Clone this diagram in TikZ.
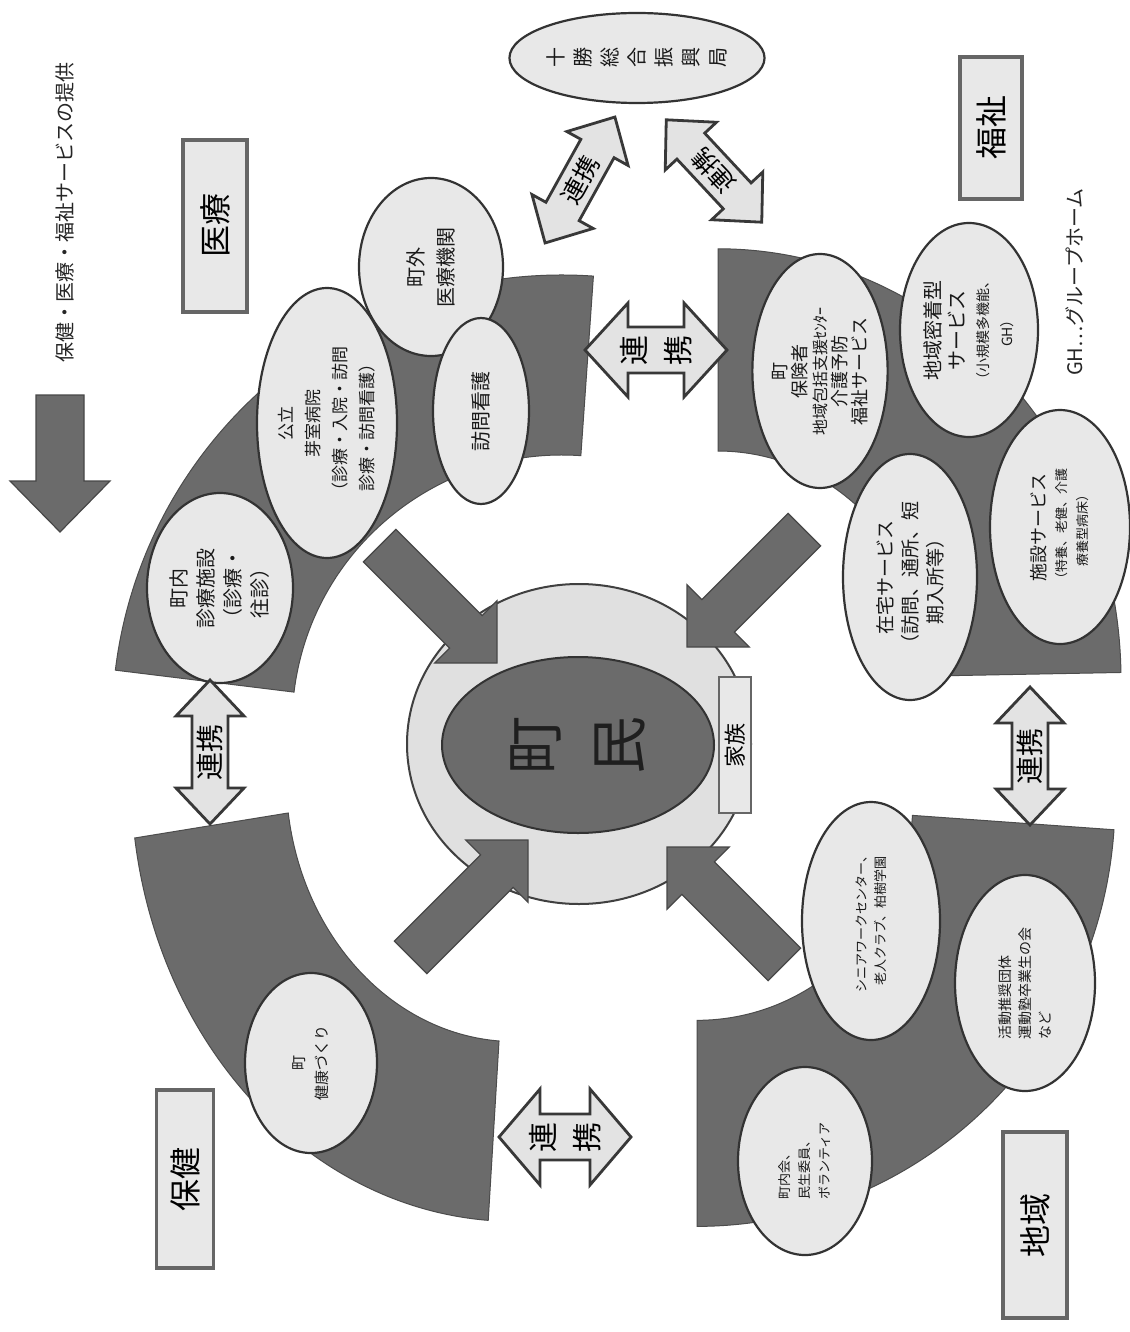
\documentclass[tikz,border=0pt]{standalone}
\usepackage{fontspec}
\setmainfont{Noto Sans CJK JP}
\usetikzlibrary{shapes.geometric}

\tikzset{
  band/.style={fill=black!58, draw=black!70, line width=1pt},
  svc/.style={ellipse, draw=black!80, fill=black!9, line width=2.2pt, inner sep=0pt, rotate=90, align=center, text=black!90},
  areabox/.style={draw=black!60, fill=black!9, line width=3.5pt, inner sep=0pt, rotate=90, font=\fontsize{32}{36}\selectfont},
  inarrow/.style={fill=black!58, draw=black!72, line width=1.2pt},
  linkarrow/.style={fill=black!11, draw=black!78, line width=2.8pt},
  linktext/.style={align=center, inner sep=0pt, font=\fontsize{30}{44}\selectfont},
}

% quarter ring: centre x, centre y, yscale, inner r, outer r, start, end
\newcommand{\ringpart}[7]{%
  \begin{scope}[shift={(#1,#2)}, yscale=#3]
    \filldraw[band] (#6:#4) arc[start angle=#6, end angle=#7, radius=#4] -- (#7:#5) arc[start angle=#7, end angle=#6, radius=#5] -- cycle;
  \end{scope}}
% block arrow towards the centre: tip, angle
\newcommand{\pusharrow}[2]{%
  \filldraw[inarrow, shift={#1}, rotate=#2] (0,0) -- (-44,44) -- (-44,23) -- (-166,23) -- (-166,-23) -- (-44,-23) -- (-44,-44) -- cycle;}
% double block arrow: centre, angle, half length, half head, half shaft, head length
\newcommand{\linkshape}[6]{%
  \filldraw[linkarrow, shift={#1}, rotate=#2] (-#3,0) -- ({#6-#3},#4) -- ({#6-#3},#5) -- ({#3-#6},#5) -- ({#3-#6},#4) -- (#3,0) -- ({#3-#6},-#4) -- ({#3-#6},-#5) -- ({#6-#3},-#5) -- ({#6-#3},-#4) -- cycle;}

\begin{document}
\begin{tikzpicture}[x=1pt, y=-1pt]
\fill[white] (0,0) rectangle (1129,1332);
\useasboundingbox (0,0) rectangle (1129,1332);

% title
\node[rotate=90, font=\fontsize{20}{24}\selectfont, text=black!85] (title) at (65,212) {保健・医療・福祉サービスの提供};
\filldraw[inarrow] (36,395) -- (84,395) -- (84,481) -- (110,481) -- (60,532) -- (10,481) -- (36,481) -- cycle;

% bands
\ringpart{562}{725}{1}{270}{450}{187}{274}
\ringpart{718}{680}{1.07}{214}{403}{270}{359}
\ringpart{697}{800}{1.02}{216}{418}{4}{90}
\ringpart{515}{776}{1.16}{229}{384}{94}{172}

% centre
\node[ellipse, fill=black!12, draw=black!75, line width=2pt, minimum width=344pt, minimum height=320pt] (ring) at (579,744) {};
\pusharrow{(497,663)}{-45}
\pusharrow{(687,647)}{-135}
\pusharrow{(528,840)}{45}
\pusharrow{(667,847)}{135}
\node[ellipse, fill=black!58, draw=black!80, line width=2pt, rotate=90, minimum width=176pt, minimum height=272pt, align=center, font=\fontsize{58}{84}\selectfont, text=black!88] (chomin) at (578,745) {町\\民};
\node[areabox, line width=2.5pt, minimum width=136pt, minimum height=32pt, font=\fontsize{22}{26}\selectfont] (kazoku) at (735,745) {家族};

% medical
\node[svc, minimum width=190pt, minimum height=146pt, font=\fontsize{20}{27}\selectfont] (chonai) at (220,588) {町内\\診療施設\\（診療・\\往診）};
\node[svc, minimum width=270pt, minimum height=140pt, font=\fontsize{17}{27}\selectfont] (memuro) at (327,423) {公立\\芽室病院\\（診療・入院・訪問\\診療・訪問看護）};
\node[svc, minimum width=178pt, minimum height=144pt, font=\fontsize{20}{30}\selectfont] (chogai) at (431,267) {町外\\医療機関};
\node[svc, minimum width=186pt, minimum height=96pt, font=\fontsize{20}{24}\selectfont] (houmon) at (481,411) {訪問看護};

% welfare
\node[svc, minimum width=234pt, minimum height=134pt, font=\fontsize{18}{20}\selectfont] (hokensha) at (820,371) {町\\保険者\\{\fontsize{16}{20}\selectfont 地域包括支援ｾﾝﾀｰ}\\介護予防\\福祉サービス};
\node[svc, minimum width=214pt, minimum height=138pt, font=\fontsize{20}{24}\selectfont] (mitchaku) at (969,330) {地域密着型\\サービス\\{\fontsize{14}{20}\selectfont （小規模多機能、}\\{\fontsize{14}{20}\selectfont GH）}};
\node[svc, minimum width=246pt, minimum height=134pt, font=\fontsize{19}{25}\selectfont] (zaitaku) at (910,577) {在宅サービス\\（訪問、通所、短\\期入所等）};
\node[svc, minimum width=234pt, minimum height=140pt, font=\fontsize{18}{21}\selectfont] (shisetsu) at (1060,527) {施設サービス\\{\fontsize{13}{20}\selectfont （特養、老健、介護}\\{\fontsize{13}{20}\selectfont 療養型病床）}};

% community
\node[svc, minimum width=238pt, minimum height=138pt, font=\fontsize{13}{19}\selectfont] (senior) at (871,921) {シニアワークセンター、\\老人クラブ、柏樹学園};
\node[svc, minimum width=216pt, minimum height=140pt, align=left, font=\fontsize{14}{20}\selectfont] (katsudo) at (1025,983) {活動推奨団体\\運動塾卒業生の会\\など};
\node[svc, minimum width=188pt, minimum height=134pt, align=left, font=\fontsize{13}{20}\selectfont] (chonaikai) at (805,1161) {町内会、\\民生委員、\\ボランティア};

% health
\node[svc, minimum width=180pt, minimum height=132pt, font=\fontsize{15}{23}\selectfont] (kenko) at (311,1063) {町\\健康づくり};

% prefecture office
\node[svc, minimum width=90pt, minimum height=244pt, font=\fontsize{20}{27}\selectfont] (tokachi) at (637,58) {十\\勝\\総\\合\\振\\興\\局};

% links
\linkshape{(656,350)}{0}{71}{47}{23}{43}
\node[linktext, rotate=90] (renkeiA) at (656,350) {連\\携};
\linkshape{(580,180)}{61}{72}{35}{19}{36}
\node[linktext, rotate=61, font=\fontsize{25}{28}\selectfont] (renkeiB) at (580,180) {連携};
\linkshape{(714,171)}{-47}{70}{35}{19}{36}
\node[linktext, rotate=133, font=\fontsize{25}{28}\selectfont] (renkeiC) at (714,171) {連携};
\linkshape{(565,1137)}{0}{66}{48}{23}{41}
\node[linktext, rotate=90] (renkeiD) at (565,1137) {連\\携};
\linkshape{(210,752)}{90}{72}{34}{18}{36}
\node[linktext, rotate=90, font=\fontsize{28}{30}\selectfont] (renkeiE) at (210,752) {連携};
\linkshape{(1030,756)}{90}{69}{34}{18}{36}
\node[linktext, rotate=90, font=\fontsize{28}{30}\selectfont] (renkeiF) at (1030,756) {連携};

% area labels
\node[areabox, minimum width=172pt, minimum height=64pt] (iryo) at (215,226) {医療};
\node[areabox, minimum width=142pt, minimum height=62pt] (fukushi) at (991,128) {福祉};
\node[areabox, minimum width=178pt, minimum height=57pt] (hoken) at (185,1179) {保健};
\node[areabox, minimum width=186pt, minimum height=64pt] (chiiki) at (1035,1225) {地域};
\node[rotate=90, font=\fontsize{20}{24}\selectfont, text=black!85] (ghnote) at (1075,282) {GH…グループホーム};
\end{tikzpicture}
\end{document}
